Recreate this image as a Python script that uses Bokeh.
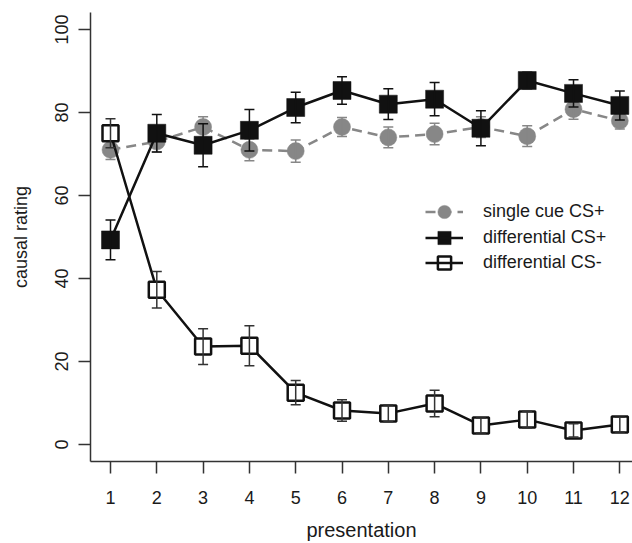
from bokeh.plotting import figure
from bokeh.models import (ColumnDataSource, FixedTicker, Legend, LegendItem, Range1d)
from bokeh.embed import file_html
from bokeh.resources import INLINE

# ---- data ----
presentation = [1, 2, 3, 4, 5, 6, 7, 8, 9, 10, 11, 12]
single_cue_mean = [71.0, 73.0, 76.5, 71.0, 70.7, 76.5, 74.0, 74.8, 76.5, 74.3, 80.8, 78.0]
single_cue_se = [2.3, 2.5, 2.5, 2.6, 2.7, 2.3, 2.5, 2.6, 2.5, 2.5, 2.4, 2.0]
diff_plus_mean = [49.3, 75.0, 72.1, 75.7, 81.2, 85.3, 82.0, 83.2, 76.2, 87.7, 84.6, 81.7]
diff_plus_se = [4.8, 4.5, 5.2, 5.0, 3.7, 3.3, 3.7, 4.0, 4.2, 2.0, 3.3, 3.5]
diff_minus_mean = [75.0, 37.3, 23.6, 23.8, 12.5, 8.2, 7.5, 9.9, 4.6, 6.0, 3.4, 4.8]
diff_minus_se = [3.5, 4.4, 4.3, 4.8, 2.9, 2.6, 2.0, 3.2, 1.8, 2.0, 1.6, 1.8]
series_labels = ["single cue CS+", "differential CS+", "differential CS-"]
y_ticks = [0, 20, 40, 60, 80, 100]

FONT = "Liberation Sans"
GREY = "#878787"
BLACK = "#111111"


def make_source(mean, se):
    return ColumnDataSource(dict(
        x=presentation,
        y=mean,
        lo=[m - s for m, s in zip(mean, se)],
        hi=[m + s for m, s in zip(mean, se)],
    ))


p = figure(width=632, height=543, output_backend="svg", toolbar_location=None,
           x_range=Range1d(0.568, 12.274), y_range=Range1d(-4.09, 104.09),
           min_border_left=90, min_border_right=0, min_border_top=12, min_border_bottom=81)
p.outline_line_color = None
p.xgrid.visible = False
p.ygrid.visible = False
p.background_fill_color = "white"
p.border_fill_color = "white"

# single cue CS+
s1 = make_source(single_cue_mean, single_cue_se)
l1 = p.line("x", "y", source=s1, line_color=GREY, line_width=2.5, line_dash="10 6")
m1 = p.scatter("x", "y", source=s1, marker="circle", size=17, fill_color=GREY, line_color=GREY, line_width=0.5)
p.segment("x", "lo", "x", "hi", source=s1, line_color=GREY, line_width=1.5)
p.scatter("x", "lo", source=s1, marker="dash", size=10, line_color=GREY, line_width=1.5)
p.scatter("x", "hi", source=s1, marker="dash", size=10, line_color=GREY, line_width=1.5)

# differential CS+
s2 = make_source(diff_plus_mean, diff_plus_se)
l2 = p.line("x", "y", source=s2, line_color=BLACK, line_width=2.5)
m2 = p.scatter("x", "y", source=s2, marker="square", size=18, fill_color=BLACK, line_color=BLACK, line_width=0.5)
p.segment("x", "lo", "x", "hi", source=s2, line_color=BLACK, line_width=1.5)
p.scatter("x", "lo", source=s2, marker="dash", size=10, line_color=BLACK, line_width=1.5)
p.scatter("x", "hi", source=s2, marker="dash", size=10, line_color=BLACK, line_width=1.5)

# differential CS-
s3 = make_source(diff_minus_mean, diff_minus_se)
l3 = p.line("x", "y", source=s3, line_color=BLACK, line_width=2.5)
m3 = p.scatter("x", "y", source=s3, marker="square", size=16, fill_color="white", line_color=BLACK, line_width=2.5)
p.segment("x", "lo", "x", "hi", source=s3, line_color="#333333", line_width=1.5)
p.scatter("x", "lo", source=s3, marker="dash", size=10, line_color="#333333", line_width=1.5)
p.scatter("x", "hi", source=s3, marker="dash", size=10, line_color="#333333", line_width=1.5)

# axes
for ax in (p.xaxis[0], p.yaxis[0]):
    ax.axis_line_color = "#333333"
    ax.axis_line_width = 1.5
    ax.major_tick_line_color = "#333333"
    ax.major_tick_line_width = 1.5
    ax.major_tick_out = 12
    ax.major_tick_in = 0
    ax.minor_tick_line_color = None
    ax.major_label_text_font = FONT
    ax.major_label_text_font_size = "18px"
    ax.major_label_text_color = "#1a1a1a"
    ax.axis_label_text_font = FONT
    ax.axis_label_text_font_style = "normal"
    ax.axis_label_text_color = "#1a1a1a"

p.xaxis.ticker = FixedTicker(ticks=presentation)
p.xaxis.axis_label = "presentation"
p.xaxis.axis_label_text_font_size = "20px"
p.xaxis.major_label_standoff = 17
p.xaxis.axis_label_standoff = 12

p.yaxis.ticker = FixedTicker(ticks=y_ticks)
p.yaxis.axis_label = "causal rating"
p.yaxis.axis_label_text_font_size = "18px"
p.yaxis.major_label_orientation = "vertical"
p.yaxis.major_label_standoff = 10
p.yaxis.axis_label_standoff = 22

# legend: one single-row legend per entry, stacked at the reference's row pitch
rows = [(series_labels[0], [m1, l1], 233), (series_labels[1], [m2, l2], 207), (series_labels[2], [m3, l3], 182)]
for label, rends, ybot in rows:
    lg = Legend(items=[LegendItem(label=label, renderers=rends)], location=(335, ybot))
    lg.glyph_width = 38
    lg.glyph_height = 33
    lg.label_height = 20
    lg.spacing = 0
    lg.padding = 0
    lg.margin = 0
    lg.label_standoff = 20
    lg.label_text_font = FONT
    lg.label_text_font_size = "18px"
    lg.label_text_color = "#1a1a1a"
    lg.border_line_color = None
    lg.background_fill_alpha = 0
    p.add_layout(lg, "center")

open("out.html", "w").write(file_html(p, INLINE))
